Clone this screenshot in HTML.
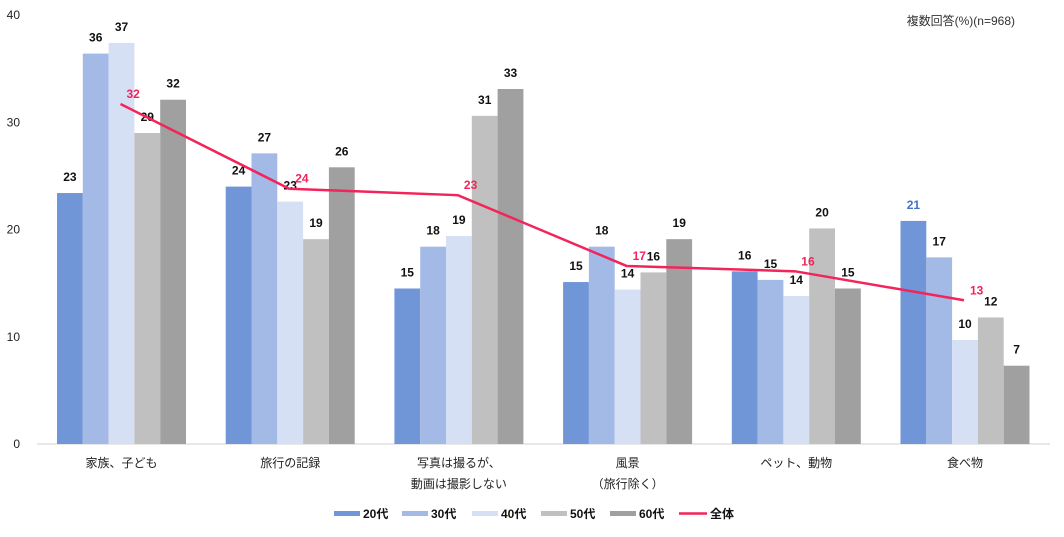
<!DOCTYPE html>
<html><head><meta charset="utf-8"><style>
body{margin:0;background:#fff;}
svg text{font-family:"Liberation Sans","Noto Sans CJK JP",sans-serif;}
</style></head><body>
<svg width="1064" height="532" xmlns="http://www.w3.org/2000/svg">
<g id="axes"></g><g id="bars"></g><g id="line"></g><g id="legend"></g>
<text x="1015" y="25" font-size="12" text-anchor="end" fill="#333">複数回答(%)(n=968)</text>
</svg>
<script>
const categories=[["家族、子ども"],["旅行の記録"],["写真は撮るが、","動画は撮影しない"],["風景","（旅行除く）"],["ペット、動物"],["食べ物"]];
const seriesNames=["20代","30代","40代","50代","60代"];
const s20=[23.4,24.0,14.5,15.1,16.1,20.8];
const s30=[36.4,27.1,18.4,18.4,15.3,17.4];
const s40=[37.4,22.6,19.4,14.4,13.8,9.7];
const s50=[29.0,19.1,30.6,16.0,20.1,11.8];
const s60=[32.1,25.8,33.1,19.1,14.5,7.3];
const total=[31.7,23.8,23.2,16.6,16.1,13.4];
const l20=[23,24,15,15,16,21];
const l30=[36,27,18,18,15,17];
const l40=[37,23,19,14,14,10];
const l50=[29,19,31,16,20,12];
const l60=[32,26,33,19,15,7];
const lTotal=[32,24,23,17,16,13];
const yTicks=[0,10,20,30,40];
const colors=["#7096d8","#a3b9e6","#d6e0f4","#c0c0c0","#a0a0a0"];
const series=[s20,s30,s40,s50,s60];
const labels=[l20,l30,l40,l50,l60];
const NS="http://www.w3.org/2000/svg";
const y=v=>444-v*10.725;
const cx=i=>121.5+i*168.7;
const bw=25.8;
function mk(t,a,p){const e=document.createElementNS(NS,t);for(const k in a)e.setAttribute(k,a[k]);p.appendChild(e);return e;}
const ax=document.getElementById('axes');
const base=mk('line',{x1:37,x2:1050,y1:444,y2:444,stroke:'#d0d0d0','stroke-width':1},ax);


yTicks.forEach(t=>{const e=mk('text',{x:20,y:y(t)+4,'font-size':12,'text-anchor':'end',fill:'#222'},ax);e.textContent=t;

});
categories.forEach((c,i)=>{c.forEach((ln,j)=>{const e=mk('text',{x:cx(i),y:467+j*21,'font-size':12,'text-anchor':'middle',fill:'#222'},ax);e.textContent=ln;

});});
const bg=document.getElementById('bars');
series.forEach((s,k)=>{s.forEach((v,i)=>{const x=cx(i)-64.5+k*bw;
const r=mk('rect',{x:x,y:y(v),width:bw,height:444-y(v),fill:colors[k]},bg);


const t=mk('text',{x:x+bw/2,y:y(v)-12,'font-size':12,'font-weight':'bold','text-anchor':'middle',fill:(k==0&&i==5)?'#4472c4':'#111'},bg);t.textContent=labels[k][i];

});});
const lg=document.getElementById('line');
const pts=total.map((v,i)=>[cx(i)-1,y(v)]);
const pl=mk('polyline',{points:pts.map(p=>p.join(',')).join(' '),fill:'none',stroke:'#f2245a','stroke-width':2.5},lg);


total.forEach((v,i)=>{const t=mk('text',{x:pts[i][0]+6,y:pts[i][1]-6,'font-size':12,'font-weight':'bold',fill:'#f2245a'},lg);t.textContent=lTotal[i];

});
const leg=document.getElementById('legend');
const lx=[334,402,472,541,610];
seriesNames.forEach((n,k)=>{const r=mk('rect',{x:lx[k],y:511,width:26,height:5,fill:colors[k]},leg);


const t=mk('text',{x:lx[k]+29,y:518,'font-size':12,'font-weight':'bold',fill:'#111'},leg);t.textContent=n;

});
const ll=mk('line',{x1:679,x2:707,y1:513.5,y2:513.5,stroke:'#f2245a','stroke-width':2.5},leg);


const lt=mk('text',{x:710,y:518,'font-size':12,'font-weight':'bold',fill:'#111'},leg);lt.textContent="全体";


</script>
</body></html>
